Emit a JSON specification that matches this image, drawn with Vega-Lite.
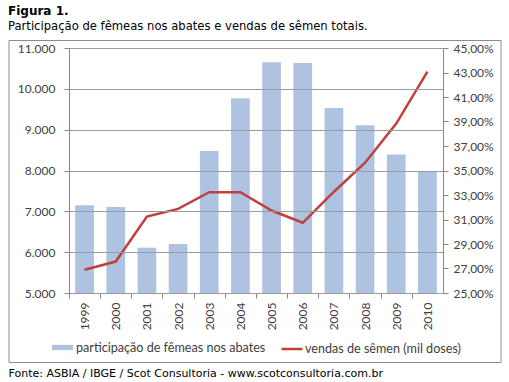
{
  "$schema": "https://vega.github.io/schema/vega-lite/v6.json",
  "autosize": {"type": "none"},
  "width": 374,
  "height": 245,
  "padding": {"left": 69, "top": 48, "right": 66, "bottom": 89},
  "background": "white",
  "title": {
    "text": "Figura 1.",
    "subtitle": "Participação  de fêmeas nos abates e vendas de sêmen totais.",
    "anchor": "start",
    "frame": "group",
    "dx": -61,
    "offset": 6,
    "font": "DejaVu Sans",
    "fontSize": 12,
    "fontWeight": "bold",
    "color": "#000000",
    "subtitleFont": "DejaVu Sans",
    "subtitleFontSize": 11.6,
    "subtitleColor": "#000000",
    "subtitlePadding": 3
  },
  "data": {
    "values": [
      {"ano": "1999", "femeas": 0.3217, "vendas": 5570},
      {"ano": "2000", "femeas": 0.3203, "vendas": 5770},
      {"ano": "2001", "femeas": 0.2870, "vendas": 6870},
      {"ano": "2002", "femeas": 0.2900, "vendas": 7060},
      {"ano": "2003", "femeas": 0.3660, "vendas": 7470},
      {"ano": "2004", "femeas": 0.4090, "vendas": 7470},
      {"ano": "2005", "femeas": 0.4383, "vendas": 7020},
      {"ano": "2006", "femeas": 0.4378, "vendas": 6720},
      {"ano": "2007", "femeas": 0.4010, "vendas": 7480},
      {"ano": "2008", "femeas": 0.3870, "vendas": 8190},
      {"ano": "2009", "femeas": 0.3630, "vendas": 9150},
      {"ano": "2010", "femeas": 0.3490, "vendas": 10420}
    ]
  },
  "layer": [
    {
      "data": {"values": [{"frame": 1}]},
      "mark": {"type": "rect", "fill": null, "stroke": "#8c8c8c", "strokeWidth": 1, "clip": false},
      "encoding": {
        "x": {"value": -60},
        "x2": {"value": 432},
        "y": {"value": -7.5},
        "y2": {"value": 314.5}
      }
    },
    {
      "mark": {"type": "bar", "color": "#AEC3E1"},
      "encoding": {
        "x": {
          "field": "ano",
          "type": "ordinal",
          "scale": {"paddingInner": 0.4, "paddingOuter": 0.2},
          "axis": {
            "title": "Fonte: ASBIA / IBGE  / Scot Consultoria - www.scotconsultoria.com.br",
            "titleFont": "DejaVu Sans",
            "titleFontSize": 11,
            "titleFontWeight": "normal",
            "titleColor": "#000000",
            "titleAnchor": "start",
            "titleAlign": "left",
            "titleBaseline": "alphabetic",
            "titleX": -61,
            "titleY": 83,
            "labelAngle": 270,
            "labelAlign": "right",
            "labelBaseline": "middle",
            "labelPadding": 4,
            "tickSize": 5,
            "tickOffset": -15.6,
            "labelOffset": 15.6,
            "grid": false
          }
        },
        "y": {
          "field": "femeas",
          "type": "quantitative",
          "scale": {"domain": [0.25, 0.45], "zero": false, "nice": false},
          "axis": {
            "orient": "right",
            "title": null,
            "values": [0.25, 0.27, 0.29, 0.31, 0.33, 0.35, 0.37, 0.39, 0.41, 0.43, 0.45],
            "format": ".2%",
            "grid": false,
            "tickSize": 5,
            "labelPadding": 5
          }
        },
        "y2": {"datum": 0.25},
        "fill": {
          "datum": "participação de fêmeas nos abates",
          "type": "nominal",
          "scale": {"range": ["#AEC3E1"]},
          "legend": {
            "orient": "none",
            "legendX": -17,
            "legendY": 289,
            "title": null,
            "symbolType": "M-1,-0.25H1V0.25H-1Z",
            "symbolSize": 441,
            "symbolStrokeWidth": 0,
            "labelFont": "Lato",
            "labelFontSize": 12.6,
            "labelLimit": 400,
            "labelColor": "#404040",
            "labelOffset": 3
          }
        }
      }
    },
    {
      "mark": {"type": "line", "strokeWidth": 2.5},
      "encoding": {
        "x": {"field": "ano", "type": "ordinal"},
        "y": {
          "field": "vendas",
          "type": "quantitative",
          "scale": {"domain": [5000, 11000], "zero": false, "nice": false},
          "axis": {
            "orient": "left",
            "title": null,
            "values": [5000, 6000, 7000, 8000, 9000, 10000, 11000],
            "format": ",.0f",
            "grid": true,
            "gridColor": "#9b9b9b",
            "zindex": 1,
            "tickSize": 5,
            "labelPadding": 9
          }
        },
        "stroke": {
          "datum": "vendas de sêmen (mil doses)",
          "type": "nominal",
          "scale": {"range": ["#C0403D"]},
          "legend": {
            "orient": "none",
            "legendX": 211,
            "legendY": 289,
            "title": null,
            "symbolType": "stroke",
            "symbolSize": 441,
            "symbolStrokeWidth": 2.5,
            "labelFont": "Lato",
            "labelFontSize": 12.6,
            "labelLimit": 400,
            "labelColor": "#404040",
            "labelOffset": 1
          }
        }
      }
    }
  ],
  "resolve": {"scale": {"y": "independent"}},
  "config": {
    "view": {"stroke": null},
    "locale": {"number": {"decimal": ",", "thousands": ".", "grouping": [3], "currency": ["R$", ""]}},
    "axis": {
      "domainColor": "#868686",
      "tickColor": "#868686",
      "labelFont": "Lato",
      "labelFontSize": 12,
      "labelColor": "#404040"
    }
  }
}
